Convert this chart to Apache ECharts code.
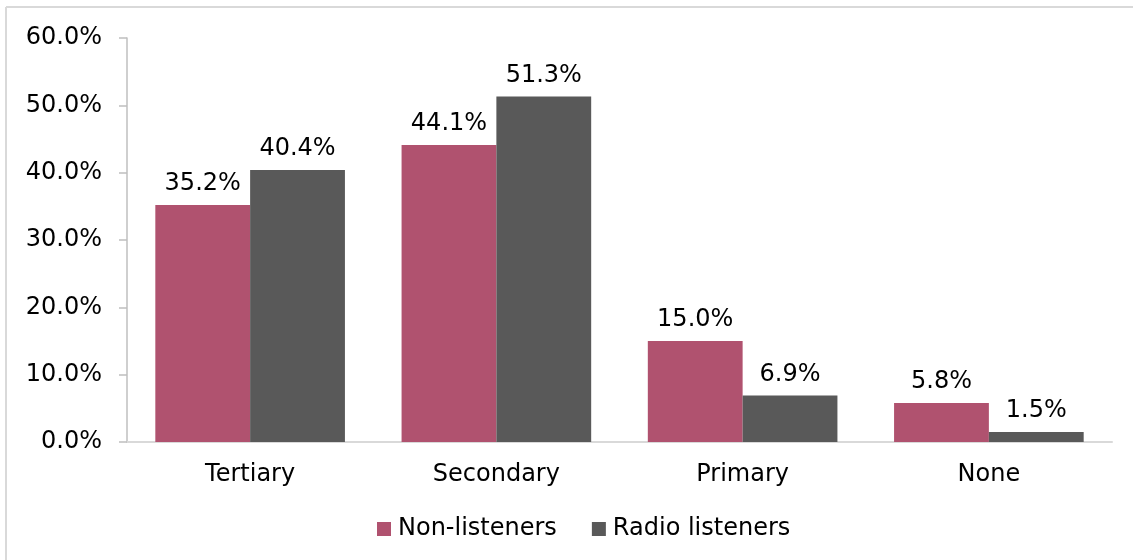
<!DOCTYPE html>
<html>
<head>
<meta charset="utf-8">
<script src="https://cdn.jsdelivr.net/npm/echarts@6/dist/echarts.min.js"></script>
<style>
  html, body { margin: 0; padding: 0; background: #fff; overflow: hidden; }
  #chart { width: 1133px; height: 560px; }
</style>
</head>
<body>
<div id="chart"></div>
<script>
// Education level of the audience, share of each group (%)
const categories = ['Tertiary', 'Secondary', 'Primary', 'None'];
const nonListeners = [35.2, 44.1, 15.0, 5.8];
const radioListeners = [40.4, 51.3, 6.9, 1.5];
const seriesNames = ['Non-listeners', 'Radio listeners'];
const colors = ['#B0526F', '#595959'];

const FONT = 'DejaVu Sans, Verdana, sans-serif';
const TEXT = '#000';
const pct = v => Number(v).toFixed(1) + '%';

const chart = echarts.init(document.getElementById('chart'));

const labelStyle = {
  show: true,
  position: 'top',
  distance: 9,
  color: TEXT,
  fontFamily: FONT,
  fontSize: 24,
  formatter: p => pct(p.value)
};

chart.setOption({
  animation: false,
  textStyle: { fontFamily: FONT },
  // chart frame: only its left and top edges fall inside the page
  graphic: [
    {
      type: 'line',
      shape: { x1: 6, y1: 7, x2: 1150, y2: 7 },
      style: { stroke: '#d9d9d9', lineWidth: 2 },
      silent: true
    },
    {
      type: 'line',
      shape: { x1: 6, y1: 7, x2: 6, y2: 580 },
      style: { stroke: '#d9d9d9', lineWidth: 2 },
      silent: true
    }
  ],
  grid: { left: 127, right: 21, top: 38, bottom: 118 },
  legend: {
    data: seriesNames,
    bottom: 14,
    left: 372,
    icon: 'rect',
    itemWidth: 14,
    itemHeight: 14,
    itemGap: 35,
    textStyle: { fontFamily: FONT, fontSize: 24, color: TEXT, padding: [0, 0, 0, 2] }
  },
  xAxis: {
    type: 'category',
    data: categories,
    axisLine: { lineStyle: { color: '#d9d9d9', width: 2 } },
    axisTick: { show: false },
    axisLabel: { fontFamily: FONT, fontSize: 24, color: TEXT, margin: 21 }
  },
  yAxis: {
    type: 'value',
    min: 0,
    max: 60,
    interval: 10,
    splitLine: { show: false },
    axisLine: { show: true, lineStyle: { color: '#bfbfbf', width: 1.5 } },
    axisTick: { show: true, length: 8, lineStyle: { color: '#bfbfbf', width: 1.5 } },
    axisLabel: {
      fontFamily: FONT, fontSize: 24, color: TEXT, margin: 25,
      formatter: v => pct(v)
    }
  },
  series: [
    {
      name: seriesNames[0],
      type: 'bar',
      data: nonListeners,
      itemStyle: { color: colors[0] },
      barGap: '0%',
      barCategoryGap: '23%',
      label: labelStyle
    },
    {
      name: seriesNames[1],
      type: 'bar',
      data: radioListeners,
      itemStyle: { color: colors[1] },
      barGap: '0%',
      barCategoryGap: '23%',
      label: labelStyle
    }
  ]
});
</script>
</body>
</html>
